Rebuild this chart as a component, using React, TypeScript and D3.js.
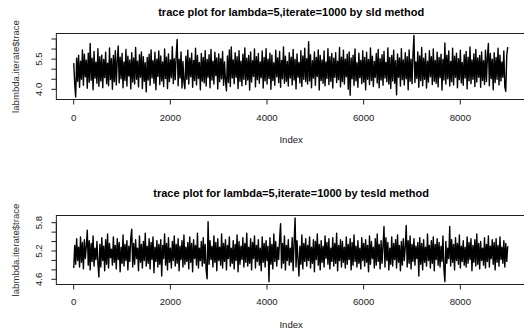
import React from "react";
import * as d3 from "d3";

// thinned traces: every 20th iteration of the 9000-long chains
const STEP = 20;

const sldTrace = [
  5.30, 4.25, 3.62, 5.55, 4.40, 5.70, 4.10, 5.40, 4.50, 5.95, 4.20, 5.75, 4.62, 5.45, 4.05,
  5.80, 4.35, 6.28, 4.45, 5.55, 3.98, 5.88, 4.55, 5.35, 4.30, 6.02, 4.15, 5.62, 4.42, 5.70,
  4.08, 5.48, 4.58, 5.85, 4.28, 5.30, 4.18, 6.05, 4.48, 5.52, 4.00, 5.68, 4.38, 5.92, 4.22,
  5.42, 6.15, 4.32, 5.60, 4.52, 5.78, 4.08, 5.36, 4.44, 5.98, 4.16, 5.64, 4.66, 5.46, 4.02,
  5.82, 4.36, 5.56, 4.26, 6.08, 4.50, 5.40, 4.12, 5.72, 4.60, 5.86, 4.04, 5.62, 4.40, 5.32,
  3.87, 5.58, 4.46, 5.74, 4.20, 5.96, 4.56, 5.42, 4.30, 5.84, 3.98, 5.50, 4.64, 5.90, 4.24,
  5.66, 4.42, 5.36, 4.14, 6.00, 4.54, 5.60, 4.04, 5.76, 4.38, 5.46, 4.58, 6.12, 4.28, 5.52,
  4.48, 5.70, 6.48, 4.18, 5.50, 4.56, 5.86, 4.06, 5.38, 4.36, 4.03, 5.64, 4.50, 5.94, 4.26,
  5.54, 4.62, 5.80, 4.10, 5.44, 4.44, 6.04, 4.22, 5.68, 4.54, 5.34, 3.98, 5.78, 4.40, 5.58,
  4.32, 5.92, 4.16, 5.48, 4.60, 5.72, 4.08, 5.98, 4.46, 5.40, 4.26, 5.84, 4.68, 5.56, 4.02,
  5.76, 4.38, 5.52, 4.52, 5.88, 4.20, 5.36, 4.42, 3.92, 5.66, 4.34, 5.96, 4.14, 6.10, 4.56,
  5.46, 4.28, 5.82, 4.60, 5.62, 4.04, 5.92, 4.40, 5.40, 4.18, 5.74, 4.50, 6.06, 4.24, 5.54,
  4.46, 5.68, 3.96, 5.86, 4.36, 5.42, 4.64, 6.00, 4.12, 5.62, 4.48, 5.78, 4.30, 5.36, 4.58,
  5.90, 4.06, 5.58, 4.42, 6.02, 4.26, 5.50, 4.54, 5.80, 4.00, 5.70, 4.44, 5.32, 4.20, 5.94,
  4.62, 5.56, 4.34, 5.88, 4.10, 5.44, 4.52, 6.10, 4.30, 5.64, 4.40, 5.38, 4.16, 5.82, 4.56,
  5.60, 4.22, 5.98, 4.46, 5.48, 4.02, 5.76, 4.60, 5.34, 4.32, 5.92, 4.14, 5.66, 4.50, 6.04,
  4.38, 5.52, 4.26, 6.37, 4.42, 5.72, 4.08, 5.42, 4.56, 5.86, 4.20, 5.58, 4.64, 5.96, 3.96,
  5.68, 4.44, 5.46, 4.30, 5.90, 4.18, 5.36, 4.54, 6.02, 4.24, 5.62, 4.40, 5.78, 4.06, 5.54,
  4.60, 5.82, 4.34, 5.40, 4.48, 6.08, 4.12, 5.60, 4.38, 5.94, 4.26, 5.50, 4.62, 5.74, 4.00,
  5.86, 3.70, 5.56, 4.52, 5.70, 4.20, 6.00, 4.42, 5.32, 4.10, 5.80, 4.58, 5.44, 4.28, 5.92,
  4.36, 5.58, 3.98, 5.84, 4.50, 5.48, 4.24, 6.06, 4.44, 5.64, 4.14, 5.38, 4.60, 5.78, 4.32,
  5.98, 4.08, 5.52, 4.46, 5.72, 4.20, 5.88, 4.56, 5.34, 4.38, 6.06, 4.26, 5.58, 4.04, 5.68,
  4.42, 5.94, 4.30, 5.42, 3.73, 5.76, 4.60, 5.56, 4.16, 6.02, 4.48, 5.46, 4.22, 5.82, 4.52,
  5.62, 3.98, 5.96, 4.40, 5.50, 4.28, 5.72, 6.68, 4.34, 5.36, 4.54, 5.86, 4.10, 5.66, 4.44,
  6.08, 4.18, 5.54, 4.50, 5.78, 4.06, 5.40, 4.36, 5.92, 4.62, 5.62, 4.24, 6.00, 4.40, 5.44,
  4.30, 5.84, 4.12, 5.58, 4.58, 5.74, 3.96, 5.48, 4.46, 6.30, 4.26, 5.70, 4.52, 5.90, 4.16,
  5.38, 4.38, 6.04, 4.22, 5.64, 4.60, 5.80, 4.08, 5.52, 4.48, 5.94, 4.32, 5.34, 4.20, 5.72,
  4.56, 5.88, 4.02, 5.60, 4.42, 6.10, 4.28, 5.46, 4.50, 5.76, 4.14, 5.98, 4.36, 5.56, 4.60,
  5.68, 4.10, 5.86, 4.44, 5.42, 4.24, 5.94, 4.38, 5.62, 6.28, 4.18, 5.78, 4.54, 5.50, 3.98,
  5.82, 4.34, 5.58, 4.50, 6.04, 4.22, 5.70, 4.42, 5.36, 4.60, 5.90, 4.12, 3.90, 5.68, 6.10,
];

const tesldTrace = [
  4.84, 5.32, 4.92, 5.46, 5.00, 5.28, 4.86, 5.50, 4.96, 5.38, 4.82, 5.44, 5.04, 5.30, 5.64,
  4.90, 5.42, 4.80, 5.36, 4.98, 5.52, 4.88, 5.26, 5.02, 5.40, 4.94, 4.65, 5.34, 4.86, 5.48,
  5.00, 5.30, 4.78, 5.44, 4.92, 5.56, 4.84, 5.36, 5.06, 5.24, 4.90, 5.50, 4.96, 5.32, 4.82,
  5.46, 5.02, 5.38, 4.76, 5.28, 4.94, 5.54, 4.88, 5.34, 5.00, 5.42, 4.80, 5.30, 4.98, 5.48,
  5.66, 4.86, 5.36, 4.92, 5.44, 5.04, 5.26, 4.78, 5.52, 4.96, 5.34, 4.84, 5.40, 5.00, 5.58,
  4.88, 5.30, 4.94, 5.46, 4.82, 5.38, 5.02, 5.50, 4.74, 5.28, 4.98, 5.42, 4.86, 5.34, 4.92,
  5.44, 4.67, 5.32, 5.04, 5.56, 4.90, 5.36, 4.80, 5.48, 4.96, 5.26, 4.84, 5.40, 5.00, 5.52,
  4.88, 5.34, 4.94, 5.46, 4.78, 5.30, 5.02, 5.42, 4.86, 5.54, 4.92, 5.28, 4.98, 5.38, 4.82,
  5.50, 4.96, 5.36, 4.76, 5.44, 5.04, 5.32, 4.90, 5.58, 4.84, 5.26, 5.00, 5.40, 4.88, 5.48,
  4.94, 5.34, 4.80, 4.61, 5.82, 4.92, 5.42, 5.02, 5.30, 4.86, 5.52, 4.96, 5.38, 4.78, 5.46,
  5.00, 5.28, 4.90, 5.56, 4.84, 5.36, 4.98, 5.44, 4.80, 5.32, 5.04, 5.50, 4.88, 5.26, 4.94,
  5.42, 4.82, 5.34, 5.00, 5.54, 4.76, 5.40, 4.92, 5.30, 5.02, 5.48, 4.86, 5.36, 4.96, 5.58,
  4.88, 5.28, 4.94, 5.46, 4.80, 5.38, 5.04, 5.52, 4.84, 5.32, 4.98, 5.44, 4.90, 5.26, 4.78,
  5.50, 4.96, 5.36, 4.86, 5.42, 5.00, 5.30, 4.55, 5.48, 4.92, 5.34, 4.82, 5.56, 4.98, 5.40,
  4.88, 5.28, 5.02, 5.46, 5.78, 4.84, 5.36, 4.94, 5.52, 4.80, 5.32, 5.00, 5.44, 4.90, 5.26,
  4.96, 5.48, 4.78, 5.38, 5.90, 4.86, 5.42, 5.04, 4.67, 5.30, 4.92, 5.54, 4.82, 5.36, 4.98,
  5.46, 4.88, 5.32, 5.00, 5.50, 4.84, 5.28, 4.94, 5.44, 4.76, 5.40, 5.02, 5.56, 4.90, 5.34,
  4.80, 5.42, 4.96, 5.30, 4.86, 5.52, 5.04, 5.38, 4.92, 5.46, 4.82, 5.26, 4.98, 5.48, 4.88,
  5.36, 4.94, 5.58, 4.78, 5.32, 5.00, 5.44, 4.86, 5.40, 4.96, 5.28, 4.84, 5.50, 4.92, 5.34,
  5.02, 5.46, 4.80, 5.38, 4.90, 5.54, 4.98, 5.30, 4.86, 5.42, 4.94, 5.26, 4.82, 5.48, 5.00,
  5.36, 4.88, 5.44, 4.96, 5.32, 4.76, 5.52, 4.92, 5.40, 5.04, 5.28, 4.84, 5.46, 4.90, 5.56,
  4.98, 5.34, 4.82, 5.42, 4.94, 5.30, 5.72, 4.86, 5.48, 5.00, 5.38, 4.80, 5.26, 4.92, 5.50,
  4.88, 5.36, 5.02, 5.44, 4.84, 5.54, 4.96, 5.32, 4.78, 5.40, 4.90, 5.46, 5.00, 5.28, 5.74,
  4.86, 5.42, 4.94, 5.52, 4.82, 5.34, 4.98, 5.46, 4.90, 5.30, 5.04, 5.38, 4.67, 5.48, 4.92,
  5.36, 4.80, 5.44, 4.96, 5.28, 4.88, 5.56, 5.00, 5.32, 4.84, 5.42, 4.94, 5.50, 4.78, 5.34,
  5.02, 5.46, 4.90, 5.38, 4.86, 5.30, 4.98, 5.52, 4.82, 4.55, 5.40, 4.94, 5.26, 5.04, 5.72,
  4.88, 5.44, 4.96, 5.34, 4.80, 5.48, 5.00, 5.36, 4.92, 5.54, 4.84, 5.30, 4.98, 5.42, 4.90,
  5.28, 4.86, 5.50, 4.94, 5.38, 5.02, 5.46, 4.78, 5.32, 4.96, 5.44, 4.88, 5.56, 4.92, 5.36,
  4.82, 5.40, 5.00, 5.26, 4.90, 5.48, 4.84, 5.34, 4.98, 5.52, 4.86, 5.30, 5.04, 5.44, 4.92,
  5.38, 4.80, 5.46, 4.96, 5.32, 4.88, 5.50, 5.02, 5.28, 4.94, 5.42, 4.86, 5.36, 4.98, 5.30,
];

const xTicks = [0, 2000, 4000, 6000, 8000];
const sldYTicks = [4.0, 4.5, 5.0, 5.5, 6.0, 6.5];
const sldYLabels = [4.0, 5.5];
const tesldYTicks = [4.6, 4.8, 5.0, 5.2, 5.4, 5.6, 5.8];
const tesldYLabels = [4.6, 5.2, 5.8];

const FONT = "'Liberation Sans', Arial, Helvetica, sans-serif";

// shared x scale (R pads xlim by 4%)
const x = d3.scaleLinear().domain([0, 8000]).range([73.7, 460.3]);
const boxLeft = x(-359);
const boxRight = x(9360);

type PanelProps = {
  values: number[];
  title: string;
  yTicks: number[];
  yLabels: number[];
  anchor: [number, number, number, number]; // v1, px1, v2, px2
  top: number;
  bottom: number;
  titleY: number;
  xLabelY: number;
  indexY: number;
};

const Panel = ({ values, title, yTicks, yLabels, anchor, top, bottom, titleY, xLabelY, indexY }: PanelProps) => {
  const y = d3.scaleLinear().domain([anchor[0], anchor[2]]).range([anchor[1], anchor[3]]);
  const line = d3
    .line<number>()
    .x((_, i) => x(i * STEP + 1))
    .y((d) => y(d));
  const tick = 5;
  const fmt = d3.format(".1f");
  return (
    <g>
      <text x={(boxLeft + boxRight) / 2} y={titleY} dy="0.35em" textAnchor="middle"
        fontFamily={FONT} fontWeight="bold" fontSize={11} fill="#000">{title}</text>
      <path d={line(values) ?? ""} fill="none" stroke="#000" strokeWidth={1.4} strokeLinejoin="round" />
      <rect x={boxLeft} y={top} width={boxRight - boxLeft} height={bottom - top} fill="none" stroke="#222" strokeWidth={1} />
      {/* x axis */}
      <line x1={x(xTicks[0])} x2={x(xTicks[xTicks.length - 1])} y1={bottom} y2={bottom} stroke="#222" />
      {xTicks.map((t) => (
        <g key={t}>
          <line x1={x(t)} x2={x(t)} y1={bottom} y2={bottom + tick} stroke="#222" />
          <text x={x(t)} y={xLabelY} dy="0.35em" textAnchor="middle" fontFamily={FONT} fontSize={9.6} fill="#222">{t}</text>
        </g>
      ))}
      <text x={(boxLeft + boxRight) / 2} y={indexY} dy="0.35em" textAnchor="middle" fontFamily={FONT} fontSize={9.6} fill="#222">Index</text>
      {/* y axis */}
      <line x1={boxLeft} x2={boxLeft} y1={y(yTicks[0])} y2={y(yTicks[yTicks.length - 1])} stroke="#222" />
      {yTicks.map((t) => (
        <line key={t} x1={boxLeft - tick} x2={boxLeft} y1={y(t)} y2={y(t)} stroke="#222" />
      ))}
      {yLabels.map((t) => (
        <text key={t} transform={`translate(38.5,${y(t)}) rotate(-90)`} dy="0.35em" textAnchor="middle"
          fontFamily={FONT} fontSize={9.6} fill="#222">{fmt(t)}</text>
      ))}
      <text transform={`translate(15.5,${(top + bottom) / 2}) rotate(-90)`} dy="0.35em" textAnchor="middle"
        fontFamily={FONT} fontSize={9.6} fill="#333">labmbda.iterate$trace</text>
    </g>
  );
};

export default function App() {
  return (
    <svg width={524} height={334} style={{ position: "absolute", left: 0, top: 0, background: "#fff" }}>
      <Panel values={sldTrace} title="trace plot for lambda=5,iterate=1000 by sld method"
        yTicks={sldYTicks} yLabels={sldYLabels} anchor={[4.0, 89.3, 6.5, 39]}
        top={33.5} bottom={99.5} titleY={11.7} xLabelY={117.3} indexY={140} />
      <Panel values={tesldTrace} title="trace plot for lambda=5,iterate=1000 by tesld method"
        yTicks={tesldYTicks} yLabels={tesldYLabels} anchor={[4.6, 279.3, 5.8, 222.7]}
        top={215.5} bottom={284.5} titleY={192.7} xLabelY={301.7} indexY={324.3} />
    </svg>
  );
}
